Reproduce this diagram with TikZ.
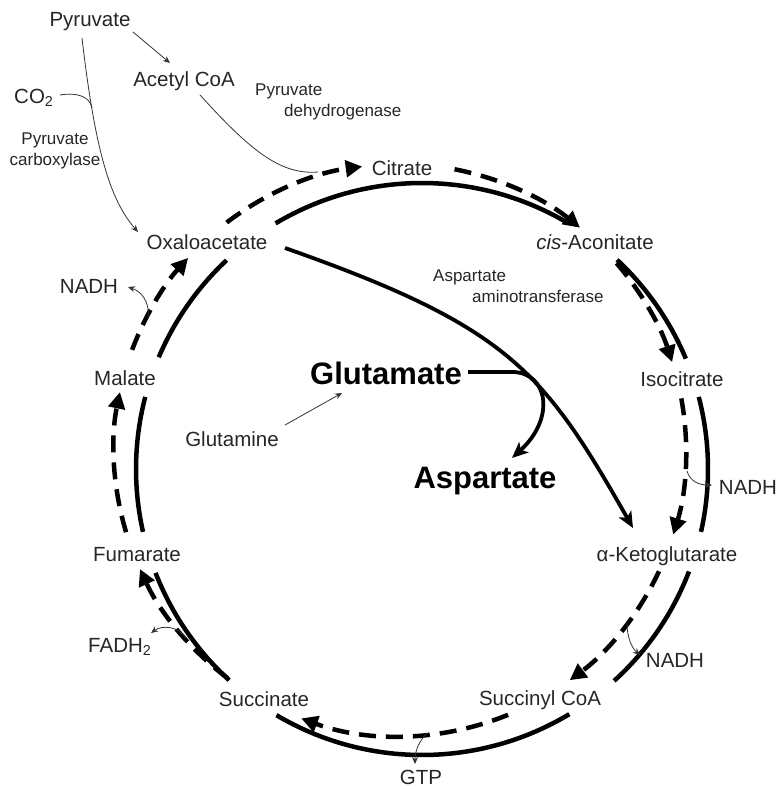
\documentclass[tikz,border=0pt]{standalone}
\usepackage{fontspec}
\setmainfont{Liberation Sans}
\usetikzlibrary{arrows.meta}
\begin{document}
\begin{tikzpicture}[x=1pt,y=-1pt,
  lab/.style={font=\fontsize{20.5}{24}\selectfont, text=black!85, inner sep=0pt, anchor=base},
  enz/.style={font=\fontsize{17}{21}\selectfont, text=black!85, inner sep=0pt, align=left, anchor=base west},
  big/.style={font=\fontsize{31}{36}\selectfont\bfseries, inner sep=0pt, anchor=base},
  solidarc/.style={line width=4.5pt},
  dasharc/.style={line width=4.5pt, dash pattern=on 17pt off 10pt, -{Triangle[length=16.5pt,width=16.5pt]}},
  bigarrow/.style={line width=3.8pt, -{Stealth[length=16pt,width=14pt,inset=4pt]}},
  thinline/.style={line width=0.8pt, black!80},
  thinarrow/.style={thinline, -{Stealth[length=7pt,width=6pt]}},
]
\useasboundingbox (0,0) rectangle (780,789);

% labels
\node[lab] (pyr) at (90,27) {Pyruvate};
\node[lab] (acoa) at (184,87) {Acetyl CoA};
\node[lab, anchor=base west] (co2) at (14,103) {CO\textsubscript{2}};
\node[enz] (pdh) at (255,117) {Pyruvate\\\hspace*{29pt}dehydrogenase};
\node[enz, align=center, anchor=base] (pc) at (55,165) {Pyruvate\\carboxylase};
\node[lab] (cit) at (402,175) {Citrate};
\node[lab] (oaa) at (207,249) {Oxaloacetate};
\node[lab] (cis) at (595,249) {\textit{cis}-Aconitate};
\node[lab] (nadh1) at (89,293) {NADH};
\node[enz] (ast) at (433,302) {Aspartate\\\hspace*{39pt}aminotransferase};
\node[lab] (mal) at (125,385) {Malate};
\node[lab] (iso) at (682,386) {Isocitrate};
\node[big] (glu) at (386,384) {Glutamate};
\node[lab] (gln) at (232,446) {Glutamine};
\node[big] (asp) at (485,488) {Aspartate};
\node[lab] (nadh2) at (748,494) {NADH};
\node[lab] (akg) at (667,561) {α-Ketoglutarate};
\node[lab] (fum) at (137,561) {Fumarate};
\node[lab, anchor=base west] (fad) at (88,652) {FADH\textsubscript{2}};
\node[lab] (nadh3) at (675,667) {NADH};
\node[lab] (scoa) at (540,705) {Succinyl CoA};
\node[lab] (suc) at (264,706) {Succinate};
\node[lab] (gtp) at (421,784.5) {GTP};

% solid circle segments (centre 422,469)
\foreach \a/\b in {120.8/59.8, 47.0/22.7, 14.6/-12.7, -21.0/-47.8, -59.0/-120.6, -132.4/-158.7, 192.7/165.4, 157.0/133.1}
  \draw[solidarc] ([shift={(422,469)}]\a:286pt) arc[start angle=\a, end angle=\b, radius=286pt];

% dashed circle segments with arrows (centre 400,450)
\foreach \a/\b in {127.3/97.6, 79.0/51.0, 40.8/17.9, 10.4/-17.2, -25.1/-53.6, -67.8/-110.2, -127.1/-155.4, 196.7/168.3, 159.5/137.8}
  \draw[dasharc] ([shift={(400,450)}]\a:286pt) arc[start angle=\a, end angle=\b, radius=286pt];

% thin connectors
\coordinate (pyrA) at (133,32);
\coordinate (acoaT) at (170,63);
\draw[thinarrow] (pyrA) -- (acoaT);
\coordinate (pyrB) at (82,38);
\coordinate (oaaT) at (138,232);
\draw[thinarrow] (pyrB) .. controls (95,150) and (110,200) .. (oaaT);
\coordinate (co2A) at (60,95);
\coordinate (co2J) at (92,108);
\draw[thinline] (co2A) .. controls (78,92) and (90,97) .. (co2J);
\coordinate (acoaA) at (200,95);
\coordinate (pdhE) at (318,172);
\draw[thinline] (acoaA) .. controls (250,150) and (280,175) .. (pdhE);
\coordinate (glnA) at (285,425);
\coordinate (gluT) at (342,393);
\draw[thinarrow] (glnA) -- (gluT);

% side products
\coordinate (n1a) at (148,318); \coordinate (n1b) at (128,287);
\draw[thinarrow] (n1a) .. controls (150,300) and (140,291) .. (n1b);
\coordinate (n2a) at (687,471); \coordinate (n2b) at (712,485);
\draw[thinarrow] (n2a) .. controls (690,482) and (700,485) .. (n2b);
\coordinate (n3a) at (627,623); \coordinate (n3b) at (640,655);
\draw[thinarrow] (n3a) .. controls (627,638) and (632,648) .. (n3b);
\coordinate (g1a) at (427,733); \coordinate (g1b) at (415,764);
\draw[thinarrow] (g1a) .. controls (420,740) and (415,750) .. (g1b);
\coordinate (f1a) at (186,638); \coordinate (f1b) at (151,633);
\draw[thinarrow] (f1a) .. controls (178,626) and (162,625) .. (f1b);

% thick connectors
\coordinate (oaaA) at (285,248);
\coordinate (akgT) at (633,528);
\draw[bigarrow] (oaaA) .. controls (510,327) and (544,372) .. (akgT);
\coordinate (gluA) at (468,372);
\coordinate (gluB) at (512,372);
\coordinate (aspT) at (512,458);
\draw[bigarrow] (gluA) -- (gluB) .. controls (548,372) and (556,418) .. (aspT);
\end{tikzpicture}
\end{document}
